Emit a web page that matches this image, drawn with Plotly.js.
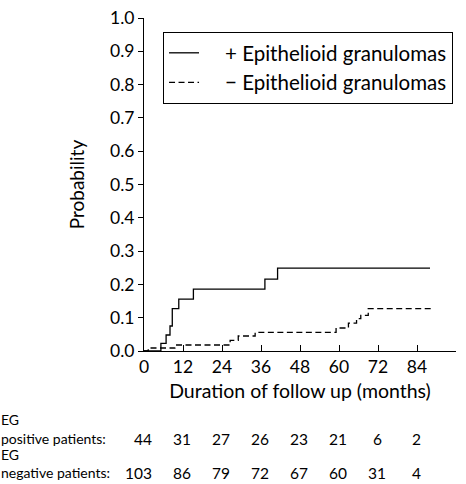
<!DOCTYPE html>
<html><head><meta charset="utf-8">
<script src="https://cdn.plot.ly/plotly-3.0.1.min.js"></script>
<style>html,body{margin:0;padding:0;background:#fff}#plot{width:466px;height:484px}</style>
</head><body><div id="plot"></div>
<script>
var posX = [0, 5.2, 6.8, 8.0, 8.7, 10.7, 15.2, 37.2, 41.1, 88];
var posY = [0, 0.023, 0.048, 0.075, 0.127, 0.156, 0.186, 0.216, 0.249, 0.249];
var negX = [0, 1.3, 9.5, 26.5, 29, 34.2, 59.1, 62.9, 65.4, 66.7, 69.0, 89];
var negY = [0, 0.009, 0.018, 0.032, 0.045, 0.056, 0.069, 0.084, 0.097, 0.107, 0.127, 0.127];
var riskMonths = [0, 12, 24, 36, 48, 60, 72, 84];
var posAtRisk = [44, 31, 27, 26, 23, 21, 6, 2];
var negAtRisk = [103, 86, 79, 72, 67, 60, 31, 4];
var seriesNames = ['+ Epithelioid granulomas', '\u2212 Epithelioid granulomas'];
var rowLabels = ['EG', 'positive patients:', 'EG', 'negative patients:'];

var FONT = 'Lato, "DejaVu Sans", sans-serif';
var NB = '\u00a0\u00a0\u00a0\u00a0';
var traces = [
  {x: posX, y: posY, mode: 'lines', line: {shape: 'hv', color: '#000', width: 1.3}, name: NB + seriesNames[0], legendgroup: 'a'},
  {x: negX, y: negY, mode: 'lines', line: {shape: 'hv', color: '#000', width: 1.3, dash: '6px,3.5px'}, name: NB + seriesNames[1], legendgroup: 'b'}
];
var ann = [];
var numFont = {size: 15.5, color: '#000', family: FONT};
riskMonths.forEach(function(m, i){
  ann.push({x: m, y: -0.264, xref: 'x', yref: 'paper', text: String(posAtRisk[i]), showarrow: false, font: numFont, xanchor: 'center', yanchor: 'middle', xshift: -1, borderpad: 0});
  ann.push({x: m, y: -0.366, xref: 'x', yref: 'paper', text: String(negAtRisk[i]), showarrow: false, font: numFont, xanchor: 'center', yanchor: 'middle', xshift: i === 0 ? -6 : -1, borderpad: 0});
});
var rowY = [-0.207, -0.264, -0.312, -0.366];
rowLabels.forEach(function(t, i){
  ann.push({x: 0, y: rowY[i], xref: 'paper', yref: 'paper', text: t, showarrow: false, font: {size: 14, color: '#000', family: FONT}, xanchor: 'left', yanchor: 'middle', xshift: -144, borderpad: 0});
});
var layout = {
  width: 466, height: 484,
  margin: {l: 144, r: 10, t: 18, b: 133},
  paper_bgcolor: '#fff', plot_bgcolor: '#fff',
  font: {family: FONT, color: '#000', size: 17},
  showlegend: true,
  legend: {x: 0.061, y: 0.958, xanchor: 'left', yanchor: 'top', bordercolor: '#000', borderwidth: 1, bgcolor: '#fff', font: {size: 20.5, family: FONT}, tracegroupgap: 0},
  xaxis: {range: [0, 96], dtick: 12, tick0: 0, showline: true, linecolor: '#000', linewidth: 1, ticks: 'inside', ticklen: 6, tickcolor: '#000', showgrid: false, zeroline: false,
    tickfont: {size: 17.5}, title: {text: 'Duration of follow up (months)', font: {size: 19.5}, standoff: 8}},
  yaxis: {range: [0, 1], dtick: 0.1, tickformat: '.1f', showline: true, linecolor: '#000', linewidth: 1, ticks: 'outside', ticklen: 5, tickcolor: '#000', showgrid: false, zeroline: false,
    tickfont: {size: 17.5}, title: {text: 'Probability', font: {size: 19}, standoff: 20}},
  annotations: ann
};
Plotly.newPlot('plot', traces, layout, {staticPlot: true});
</script></body></html>
